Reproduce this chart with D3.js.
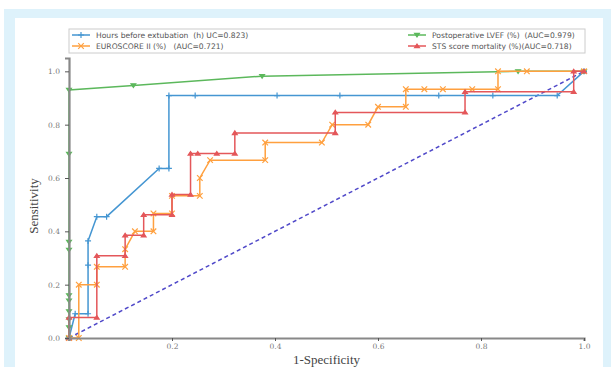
<!DOCTYPE html>
<html>
<head>
<meta charset="utf-8">
<script src="https://cdn.jsdelivr.net/npm/d3@7"></script>
<style>
  body { margin: 0; background: #fff; }
  text { white-space: pre; }
</style>
</head>
<body>
<div id="chart"></div>
<script>
// ROC curve points (false positive rate / true positive rate)
const hoursFpr = [0, 0.012, 0.037, 0.037, 0.037, 0.054, 0.073, 0.175, 0.194, 0.194, 0.245, 0.404, 0.526, 0.718, 0.823, 0.948, 1];
const hoursTpr = [0, 0.091, 0.091, 0.273, 0.364, 0.455, 0.455, 0.636, 0.636, 0.909, 0.909, 0.909, 0.909, 0.909, 0.909, 0.909, 1];

const euroFpr = [0, 0.019, 0.019, 0.054, 0.054, 0.109, 0.109, 0.128, 0.164, 0.164, 0.2, 0.2, 0.254, 0.254, 0.274, 0.381, 0.381, 0.491, 0.511, 0.581, 0.6, 0.654, 0.654, 0.69, 0.726, 0.783, 0.833, 0.833, 0.889, 1];
const euroTpr = [0, 0, 0.2, 0.2, 0.267, 0.267, 0.333, 0.4, 0.4, 0.467, 0.467, 0.533, 0.533, 0.6, 0.667, 0.667, 0.733, 0.733, 0.8, 0.8, 0.867, 0.867, 0.933, 0.933, 0.933, 0.933, 0.933, 1, 1, 1];

const lvefFpr = [0, 0, 0, 0, 0, 0, 0, 0, 0, 0, 0.125, 0.375, 0.872, 1];
const lvefTpr = [0, 0.04, 0.07, 0.1, 0.14, 0.16, 0.33, 0.36, 0.69, 0.93, 0.947, 0.982, 1, 1];

const stsFpr = [0, 0, 0.054, 0.054, 0.109, 0.109, 0.145, 0.145, 0.2, 0.2, 0.236, 0.236, 0.25, 0.287, 0.322, 0.322, 0.517, 0.517, 0.769, 0.769, 0.98, 0.98, 1];
const stsTpr = [0, 0.077, 0.077, 0.308, 0.308, 0.385, 0.385, 0.462, 0.462, 0.538, 0.538, 0.692, 0.692, 0.692, 0.692, 0.769, 0.769, 0.846, 0.846, 0.923, 0.923, 1, 1];

const seriesNames = [
  'Hours before extubation  (h) UC=0.823)',
  'EUROSCORE II (%)   (AUC=0.721)',
  'Postoperative LVEF (%)  (AUC=0.979)',
  'STS score mortality (%)(AUC=0.718)'
];
const xTicks = [0.2, 0.4, 0.6, 0.8, 1.0];
const yTicks = [0, 0.2, 0.4, 0.6, 0.8, 1.0];

const width = 611, height = 367;
const margin = { top: 58, right: 27, bottom: 29, left: 69 };

const svg = d3.select('#chart').append('svg')
  .attr('width', width)
  .attr('height', height)
  .style('font-family', 'DejaVu Sans, sans-serif');

// page frame
svg.append('rect').attr('x', 4).attr('y', 9).attr('width', width - 4).attr('height', height - 9).attr('fill', '#def2fb');
svg.append('rect').attr('x', 15).attr('y', 18).attr('width', 588).attr('height', height - 18).attr('fill', '#fff');

const x = d3.scaleLinear().domain([0, 1]).range([margin.left, width - margin.right]);
const y = d3.scaleLinear().domain([0, 1.05]).range([height - margin.bottom, margin.top]);

svg.append('text')
  .attr('x', (x(0) + x(1)) / 2)
  .attr('y', 364)
  .attr('text-anchor', 'middle')
  .attr('fill', '#444')
  .style('font-family', 'Liberation Serif, serif')
  .style('font-size', '13px')
  .text('1-Specificity');

svg.append('text')
  .attr('transform', `translate(38,${(y(0) + y(1.05)) / 2 + 8}) rotate(-90)`)
  .attr('text-anchor', 'middle')
  .attr('fill', '#444')
  .style('font-family', 'Liberation Serif, serif')
  .style('font-size', '13px')
  .text('Sensitivity');

// chance line
svg.append('line')
  .attr('x1', x(0)).attr('y1', y(0))
  .attr('x2', x(1)).attr('y2', y(1))
  .attr('stroke', '#5049c9')
  .attr('stroke-width', 1.5)
  .attr('stroke-dasharray', '4,3');

const markers = {
  plus: 'M-3,0H3M0,-3V3',
  cross: 'M-2.8,-2.8L2.8,2.8M-2.8,2.8L2.8,-2.8',
  down: 'M-2.4,-1.6L2.4,-1.6L0,2Z',
  up: 'M-2.4,1.6L2.4,1.6L0,-2Z'
};

const series = [
  { name: seriesNames[0], fpr: hoursFpr, tpr: hoursTpr, color: '#4596d2', marker: 'plus' },
  { name: seriesNames[1], fpr: euroFpr, tpr: euroTpr, color: '#ffa03f', marker: 'cross' },
  { name: seriesNames[2], fpr: lvefFpr, tpr: lvefTpr, color: '#5cb85c', marker: 'down' },
  { name: seriesNames[3], fpr: stsFpr, tpr: stsTpr, color: '#e4575a', marker: 'up' }
];

const line = d3.line().x(d => x(d[0])).y(d => y(d[1]));

function drawMarker(g, m, color) {
  g.append('path')
    .attr('d', markers[m])
    .attr('stroke', color)
    .attr('stroke-width', 1.2)
    .attr('fill', (m === 'up' || m === 'down') ? color : 'none');
}

// draw order: hours, lvef, euro, sts
[0, 2, 1, 3].forEach(i => {
  const s = series[i];
  const pts = s.fpr.map((v, j) => [v, s.tpr[j]]);
  svg.append('path')
    .datum(pts)
    .attr('d', line)
    .attr('fill', 'none')
    .attr('stroke', s.color)
    .attr('stroke-width', 1.5);
  pts.forEach(p => {
    const g = svg.append('g').attr('transform', `translate(${x(p[0])},${y(p[1])})`);
    drawMarker(g, s.marker, s.color);
  });
});

// axes on top of the curves (left + bottom only)
const xAxis = svg.append('g')
  .attr('transform', `translate(0,${y(0)})`)
  .call(d3.axisBottom(x).tickValues(xTicks).tickFormat(d3.format('.1f')).tickSize(3).tickPadding(3));
const yAxis = svg.append('g')
  .attr('transform', `translate(${x(0)},0)`)
  .call(d3.axisLeft(y).tickValues(yTicks).tickFormat(d3.format('.1f')).tickSize(4).tickPadding(5));

[xAxis, yAxis].forEach(g => {
  g.select('.domain').attr('stroke', '#888').attr('stroke-width', 2.2);
  g.selectAll('.tick line').attr('stroke', '#555');
  g.selectAll('.tick text').attr('fill', '#777').style('font-size', '7.5px').style('font-family', 'DejaVu Serif, serif');
});

// legend
const legend = svg.append('g');
legend.append('rect')
  .attr('x', 69).attr('y', 29).attr('width', 516).attr('height', 24)
  .attr('fill', '#fff').attr('stroke', '#ccc').attr('stroke-width', 1);

const legendPos = [[72, 35], [72, 46], [408, 35], [408, 46]];
series.forEach((s, i) => {
  const [lx, ly] = legendPos[i];
  legend.append('line')
    .attr('x1', lx).attr('x2', lx + 18).attr('y1', ly).attr('y2', ly)
    .attr('stroke', s.color).attr('stroke-width', 1.5);
  drawMarker(legend.append('g').attr('transform', `translate(${lx + 9},${ly})`), s.marker, s.color);
  legend.append('text')
    .attr('x', lx + 24)
    .attr('y', ly + 3)
    .attr('fill', '#555')
    .style('font-size', '7.6px')
    .text(s.name);
});
</script>
</body>
</html>
